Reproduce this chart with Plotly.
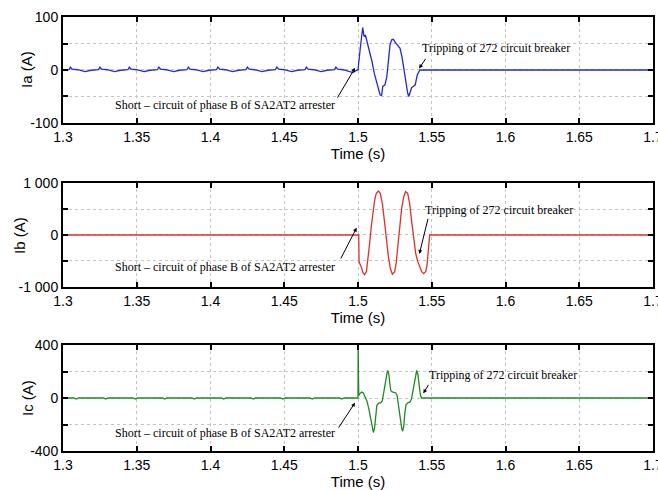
import plotly.graph_objects as go

# ---------------- data ----------------
# Ia : pre-fault ripple
ia_pre_t = [1.300, 1.304, 1.305, 1.3062, 1.310, 1.315, 1.319,
            1.324, 1.325, 1.3262, 1.330, 1.335, 1.339,
            1.344, 1.345, 1.3462, 1.350, 1.355, 1.359,
            1.364, 1.365, 1.3662, 1.370, 1.375, 1.379,
            1.384, 1.385, 1.3862, 1.390, 1.395, 1.399,
            1.404, 1.405, 1.4062, 1.410, 1.415, 1.419,
            1.424, 1.425, 1.4262, 1.430, 1.435, 1.439,
            1.444, 1.445, 1.4462, 1.450, 1.455, 1.459,
            1.464, 1.465, 1.4662, 1.470, 1.475, 1.479,
            1.484, 1.485, 1.4862, 1.490, 1.4965, 1.4995]
ia_pre_v = [0, 0.5, 5.5, 1.5, 0.5, -3, -0.5,
            0.5, 5.5, 1.5, 0.5, -3, -0.5,
            0.5, 5.5, 1.5, 0.5, -3, -0.5,
            0.5, 5.5, 1.5, 0.5, -3, -0.5,
            0.5, 5.5, 1.5, 0.5, -3, -0.5,
            0.5, 5.5, 1.5, 0.5, -3, -0.5,
            0.5, 5.5, 1.5, 0.5, -3, -0.5,
            0.5, 5.5, 1.5, 0.5, -3, -0.5,
            0.5, 5.5, 1.5, 0.5, -3, -0.5,
            0.5, 5.5, 1.5, 0.5, -5, 0]
# Ia : fault period and after tripping
ia_flt_t = [1.5000, 1.5015, 1.5025, 1.5032, 1.5040, 1.5045, 1.5050, 1.5065,
            1.5082, 1.5095, 1.5110, 1.5127, 1.5140, 1.5150, 1.5160, 1.5168,
            1.5183, 1.5195, 1.5208, 1.5217, 1.5228, 1.5240, 1.5250, 1.5265,
            1.5285, 1.5298, 1.5312, 1.5325, 1.5337, 1.5344, 1.5352, 1.5364,
            1.5375, 1.5388, 1.5402, 1.5412, 1.5420, 1.7000]
ia_flt_v = [0, 40, 70, 80, 65, 63, 66, 50,
            35, 16, -6, -25, -35, -47, -48, -31,
            -28, -13, 22, 47, 57, 58, 53, 48,
            41, 25, -3, -25, -44, -50, -44, -33,
            -31, -28, -9, -2, 0, 0]

# Ib
ib_pre_t = [1.300, 1.5000]
ib_pre_v = [0, 0]
ib_flt_t = [1.5005, 1.5007, 1.5016, 1.5023, 1.5034, 1.5045, 1.5057, 1.5068,
            1.5079, 1.5090, 1.5102, 1.5113, 1.5124, 1.5138, 1.5151, 1.5165,
            1.5181, 1.5192, 1.5206, 1.5219, 1.5233, 1.5249, 1.5260, 1.5271,
            1.5283, 1.5296, 1.5310, 1.5323, 1.5337, 1.5350, 1.5364, 1.5377,
            1.5391, 1.5405, 1.5418, 1.5432, 1.5445, 1.5459, 1.5468, 1.5477,
            1.5486, 1.7000]
ib_flt_v = [0, -513, -558, -622, -724, -763, -705, -481,
            -160, 160, 449, 673, 801, 846, 801, 609,
            224, -96, -417, -641, -756, -705, -513, -192,
            160, 513, 737, 833, 801, 609, 256, -96,
            -352, -513, -622, -705, -744, -705, -577, -224,
            0, 0]

# Ic
ic_pre_t = [1.300, 1.3075, 1.309, 1.3105, 1.3275, 1.329, 1.3305,
            1.3475, 1.349, 1.3505, 1.3675, 1.369, 1.3705,
            1.3875, 1.389, 1.3905, 1.4075, 1.409, 1.4105,
            1.4275, 1.429, 1.4305, 1.4475, 1.449, 1.4505,
            1.4675, 1.469, 1.4705, 1.4875, 1.489, 1.4905, 1.5000]
ic_pre_v = [0, 0, -8, 0, 0, -8, 0,
            0, -8, 0, 0, -8, 0,
            0, -8, 0, 0, -8, 0,
            0, -8, 0, 0, -8, 0,
            0, -8, 0, 0, -8, 0, 0]
ic_flt_t = [1.5001, 1.5005, 1.5015, 1.5025, 1.5035, 1.5045, 1.5060, 1.5075,
            1.5088, 1.5098, 1.5104, 1.5112, 1.5120, 1.5128, 1.5138, 1.5155,
            1.5165, 1.5178, 1.5190, 1.5200, 1.5208, 1.5215, 1.5222, 1.5235,
            1.5255, 1.5265, 1.5275, 1.5287, 1.5297, 1.5303, 1.5310, 1.5318,
            1.5326, 1.5340, 1.5353, 1.5363, 1.5375, 1.5388, 1.5398, 1.5406,
            1.5414, 1.5422, 1.5430, 1.7000]
ic_flt_v = [395, 20, 35, 45, 40, 20, -20, -90,
            -180, -245, -260, -230, -120, -55, -40, -35,
            -20, 60, 160, 208, 185, 110, 55, 45,
            40, 20, -60, -170, -235, -250, -215, -110,
            -50, -35, -30, -5, 80, 170, 208, 180,
            100, 30, 0, 0]

x_ticks = [1.3, 1.35, 1.4, 1.45, 1.5, 1.55, 1.6, 1.65, 1.7]
x_tick_labels = ["1.3", "1.35", "1.4", "1.45", "1.5", "1.55", "1.6", "1.65", "1.7"]

ia_ticks = [-100, -50, 0, 50, 100]
ia_tick_labels = ["-100", "", "0", "", "100"]
ib_ticks = [-1000, -500, 0, 500, 1000]
ib_tick_labels = ["-1 000", "", "0", "", "1 000"]
ic_ticks = [-400, -200, 0, 200, 400]
ic_tick_labels = ["-400", "", "0", "", "400"]

y_titles = ["Ia (A)", "Ib (A)", "Ic (A)"]
short_text = "Short \u2013 circuit of phase B of SA2AT2 arrester"
trip_text = "Tripping of 272 circuit breaker"

# annotation anchor points (data coords)
short_pos = [(1.4858, -66), (1.4858, -620), (1.4858, -262)]
trip_pos = [(1.5420, 42), (1.5439, 481), (1.5466, 174)]
short_arrow = [((1.4855, -55), (1.4980, 4)), ((1.4878, -481), (1.4991, 140)),
               ((1.4862, -235), (1.4980, -35))]
trip_arrow = [((1.5466, 24), (1.5414, 3)), ((1.5477, 340), (1.5416, -365)),
              ((1.5484, 111), (1.5443, 35))]

# ---------------- figure ----------------
colors = ["#2626dc", "#e0302c", "#1f8a1f"]
series = [(ia_pre_t + ia_flt_t, ia_pre_v + ia_flt_v),
          (ib_pre_t + ib_flt_t, ib_pre_v + ib_flt_v),
          (ic_pre_t + ic_flt_t, ic_pre_v + ic_flt_v)]
domains = [[0.7558, 1.0], [0.3779, 0.6175], [0.0, 0.2442]]
yranges = [[-100, 100], [-1000, 1000], [-400, 400]]
yticks = [(ia_ticks, ia_tick_labels), (ib_ticks, ib_tick_labels), (ic_ticks, ic_tick_labels)]
ytitle_x = [-0.061, -0.073, -0.061]

SANS = "Liberation Sans, Arial, sans-serif"
SERIF = "Liberation Serif, Times New Roman, serif"

fig = go.Figure()
layout = dict(
    width=658, height=490,
    margin=dict(l=63, r=5, t=17, b=39),
    paper_bgcolor="white", plot_bgcolor="white",
    showlegend=False, template="none",
    font=dict(family=SANS, size=14, color="black"),
)
annotations = []
for i in range(3):
    sfx = "" if i == 0 else str(i + 1)
    t, v = series[i]
    fig.add_trace(go.Scatter(x=t, y=v, mode="lines",
                             line=dict(color=colors[i], width=1.3),
                             xaxis="x" + sfx, yaxis="y" + sfx,
                             hoverinfo="skip"))
    axis_common = dict(showline=True, linecolor="black", linewidth=2,
                       mirror="allticks", ticks="inside", ticklen=5,
                       tickwidth=2, tickcolor="black", showgrid=True,
                       gridcolor="#c4c4c4", griddash="dot", gridwidth=1,
                       zeroline=False, automargin=False,
                       ticklabeloverflow="allow",
                       tickfont=dict(family=SANS, size=14, color="black"))
    layout["xaxis" + sfx] = dict(axis_common, domain=[0, 1], range=[1.3, 1.7],
                                 anchor="y" + sfx,
                                 tickvals=x_ticks, ticktext=x_tick_labels,
                                 title=dict(text="Time (s)", standoff=2,
                                            font=dict(family=SANS, size=15)))
    layout["yaxis" + sfx] = dict(axis_common, domain=domains[i], range=yranges[i],
                                 anchor="x" + sfx,
                                 tickvals=yticks[i][0], ticktext=yticks[i][1])
    xr, yr = "x" + sfx, "y" + sfx
    annotations.append(dict(x=ytitle_x[i], y=sum(domains[i]) / 2,
                            xref="paper", yref="paper", text=y_titles[i],
                            textangle=-90, showarrow=False,
                            xanchor="center", yanchor="middle",
                            font=dict(family=SANS, size=15, color="black")))
    annotations.append(dict(x=short_pos[i][0], y=short_pos[i][1], xref=xr, yref=yr,
                            text=short_text, showarrow=False, xanchor="right",
                            yanchor="middle",
                            font=dict(family=SERIF, size=12, color="black")))
    annotations.append(dict(x=trip_pos[i][0], y=trip_pos[i][1], xref=xr, yref=yr,
                            text=trip_text, showarrow=False, xanchor="left",
                            yanchor="middle",
                            font=dict(family=SERIF, size=12, color="black")))
    for (tail, head) in (short_arrow[i], trip_arrow[i]):
        annotations.append(dict(x=head[0], y=head[1], ax=tail[0], ay=tail[1],
                                xref=xr, yref=yr, axref=xr, ayref=yr,
                                text="", showarrow=True, arrowhead=2,
                                arrowsize=0.8, arrowwidth=1, arrowcolor="black",
                                standoff=0, startstandoff=0))
layout["annotations"] = annotations
fig.update_layout(**layout)
fig.write_html("out.html")
